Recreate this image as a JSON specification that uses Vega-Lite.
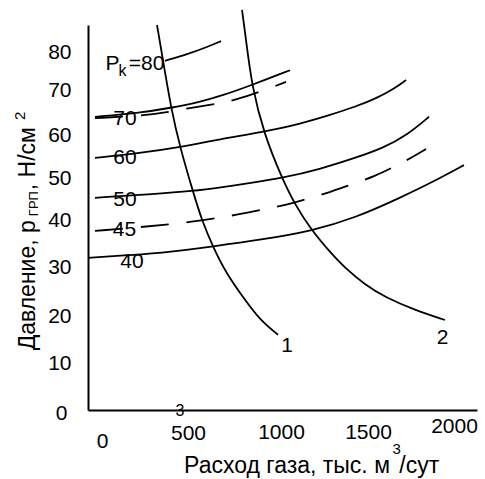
{
  "$schema": "https://vega.github.io/schema/vega-lite/v6.json",
  "width": 389,
  "height": 385,
  "autosize": "none",
  "padding": {"left": 88, "top": 25, "right": 8, "bottom": 69},
  "background": "white",
  "config": {"view": {"stroke": null}, "font": "Liberation Sans"},
  "encoding": {
    "x": {
      "field": "x", "type": "quantitative",
      "scale": {"domain": [0, 2114], "nice": false, "zero": false},
      "axis": {
        "values": [0, 500, 1000, 1500, 2000], "format": "d", "title": null, "grid": false, "ticks": false, "tickSize": 0,
        "domainColor": "black", "domainWidth": 2, "labelFontSize": 21, "labelColor": "black",
        "labelFont": "Liberation Sans", "labelFlush": false, "labelOverlap": false, "labelBound": false,
        "labelBaseline": "middle",
        "labelOffset": {"condition": [{"test": "datum.value == 0", "value": 14}, {"test": "datum.value == 2000", "value": -2}, {"test": "datum.value == 1000", "value": 9}, {"test": "datum.value == 1500", "value": 4}], "value": 8},
        "labelPadding": {"condition": [{"test": "datum.value == 0", "value": 31}, {"test": "datum.value == 2000", "value": 16}, {"test": "datum.value == 1000", "value": 22}, {"test": "datum.value == 1500", "value": 22}], "value": 23}
      }
    },
    "y": {
      "field": "y", "type": "quantitative",
      "scale": {"domain": [0, 86], "nice": false, "zero": false},
      "axis": {
        "values": [0, 10, 20, 30, 40, 50, 60, 70, 80], "title": null, "grid": false, "ticks": false, "tickSize": 0,
        "domainColor": "black", "domainWidth": 2, "labelFontSize": 21, "labelColor": "black",
        "labelFont": "Liberation Sans", "labelFlush": false, "labelOverlap": false, "labelBound": false,
        "labelBaseline": "middle", "labelAlign": "right",
        "labelOffset": {"condition": [{"test": "datum.value == 0", "value": 3}, {"test": "datum.value == 10", "value": -2}, {"test": "datum.value == 20", "value": -4}, {"test": "datum.value == 30", "value": -8}, {"test": "datum.value == 40", "value": -10}, {"test": "datum.value == 50", "value": -8}, {"test": "datum.value == 80", "value": 1}], "value": -6},
        "labelPadding": {"condition": [{"test": "datum.value == 0", "value": 21}], "value": 17}
      }
    }
  },
  "layer": [
    {
      "data": {"values": [
        {"curve": "1", "x": 375, "y": 86.0}, {"curve": "1", "x": 408, "y": 78.0}, {"curve": "1", "x": 451, "y": 67.5}, {"curve": "1", "x": 500, "y": 58.7}, {"curve": "1", "x": 571, "y": 48.7}, {"curve": "1", "x": 620, "y": 42.2}, {"curve": "1", "x": 680, "y": 36.4}, {"curve": "1", "x": 750, "y": 30.6}, {"curve": "1", "x": 853, "y": 24.6}, {"curve": "1", "x": 935, "y": 20.1}, {"curve": "1", "x": 1033, "y": 16.8},
        {"curve": "2", "x": 837, "y": 89.4}, {"curve": "2", "x": 859, "y": 82.6}, {"curve": "2", "x": 891, "y": 72.2}, {"curve": "2", "x": 957, "y": 61.6}, {"curve": "2", "x": 1054, "y": 51.8}, {"curve": "2", "x": 1120, "y": 46.2}, {"curve": "2", "x": 1217, "y": 40.0}, {"curve": "2", "x": 1315, "y": 35.3}, {"curve": "2", "x": 1397, "y": 31.7}, {"curve": "2", "x": 1505, "y": 28.0}, {"curve": "2", "x": 1614, "y": 25.2}, {"curve": "2", "x": 1777, "y": 22.3}, {"curve": "2", "x": 1940, "y": 20.1},
        {"curve": "Pk80", "x": 418, "y": 78.0}, {"curve": "Pk80", "x": 543, "y": 79.5}, {"curve": "Pk80", "x": 636, "y": 80.9}, {"curve": "Pk80", "x": 723, "y": 82.4},
        {"curve": "Pk70", "x": 38, "y": 65.5}, {"curve": "Pk70", "x": 272, "y": 66.3}, {"curve": "Pk70", "x": 451, "y": 67.5}, {"curve": "Pk70", "x": 609, "y": 68.8}, {"curve": "Pk70", "x": 734, "y": 70.3}, {"curve": "Pk70", "x": 891, "y": 72.6}, {"curve": "Pk70", "x": 1098, "y": 75.9},
        {"curve": "Pk60", "x": 38, "y": 56.3}, {"curve": "Pk60", "x": 283, "y": 57.4}, {"curve": "Pk60", "x": 500, "y": 58.7}, {"curve": "Pk60", "x": 717, "y": 60.5}, {"curve": "Pk60", "x": 951, "y": 62.1}, {"curve": "Pk60", "x": 1152, "y": 63.9}, {"curve": "Pk60", "x": 1315, "y": 65.9}, {"curve": "Pk60", "x": 1451, "y": 67.7}, {"curve": "Pk60", "x": 1571, "y": 69.7}, {"curve": "Pk60", "x": 1668, "y": 71.9}, {"curve": "Pk60", "x": 1728, "y": 73.7},
        {"curve": "Pk50", "x": 38, "y": 47.4}, {"curve": "Pk50", "x": 337, "y": 48.2}, {"curve": "Pk50", "x": 571, "y": 48.9}, {"curve": "Pk50", "x": 734, "y": 49.8}, {"curve": "Pk50", "x": 880, "y": 50.7}, {"curve": "Pk50", "x": 1054, "y": 51.8}, {"curve": "Pk50", "x": 1261, "y": 53.8}, {"curve": "Pk50", "x": 1451, "y": 56.3}, {"curve": "Pk50", "x": 1603, "y": 58.5}, {"curve": "Pk50", "x": 1734, "y": 61.4}, {"curve": "Pk50", "x": 1853, "y": 65.5},
        {"curve": "Pk40", "x": 0, "y": 34.0}, {"curve": "Pk40", "x": 228, "y": 34.6}, {"curve": "Pk40", "x": 446, "y": 35.3}, {"curve": "Pk40", "x": 690, "y": 36.6}, {"curve": "Pk40", "x": 935, "y": 38.0}, {"curve": "Pk40", "x": 1217, "y": 40.0}, {"curve": "Pk40", "x": 1451, "y": 42.9}, {"curve": "Pk40", "x": 1696, "y": 47.4}, {"curve": "Pk40", "x": 1886, "y": 51.2}, {"curve": "Pk40", "x": 2043, "y": 54.7}
      ]},
      "mark": {"type": "line", "color": "black", "strokeWidth": 1.8, "interpolate": "basis"},
      "encoding": {"detail": {"field": "curve"}}
    },
    {
      "data": {"values": [
        {"curve": "Pk70d", "x": 38, "y": 65.2}, {"curve": "Pk70d", "x": 283, "y": 65.7}, {"curve": "Pk70d", "x": 446, "y": 66.6}, {"curve": "Pk70d", "x": 554, "y": 67.5}, {"curve": "Pk70d", "x": 707, "y": 68.4}, {"curve": "Pk70d", "x": 799, "y": 69.2}, {"curve": "Pk70d", "x": 951, "y": 71.3}, {"curve": "Pk70d", "x": 1076, "y": 73.3},
        {"curve": "Pk45d", "x": 38, "y": 40.0}, {"curve": "Pk45d", "x": 299, "y": 40.9}, {"curve": "Pk45d", "x": 451, "y": 41.5}, {"curve": "Pk45d", "x": 554, "y": 42.0}, {"curve": "Pk45d", "x": 707, "y": 42.9}, {"curve": "Pk45d", "x": 804, "y": 43.6}, {"curve": "Pk45d", "x": 967, "y": 44.9}, {"curve": "Pk45d", "x": 1054, "y": 45.6}, {"curve": "Pk45d", "x": 1212, "y": 47.4}, {"curve": "Pk45d", "x": 1304, "y": 48.5}, {"curve": "Pk45d", "x": 1451, "y": 50.7}, {"curve": "Pk45d", "x": 1549, "y": 52.0}, {"curve": "Pk45d", "x": 1696, "y": 55.0}, {"curve": "Pk45d", "x": 1772, "y": 56.7}, {"curve": "Pk45d", "x": 1837, "y": 58.3}
      ]},
      "mark": {"type": "line", "color": "black", "strokeWidth": 1.8, "interpolate": "basis", "strokeDash": [28, 18]},
      "encoding": {"detail": {"field": "curve"}}
    },
    {
      "data": {"values": [
        {"t": "70", "x": 201, "y": 65.0}, {"t": "60", "x": 201, "y": 56.4}, {"t": "50", "x": 201, "y": 46.9}, {"t": "45", "x": 198, "y": 40.3}, {"t": "40", "x": 239, "y": 33.1},
        {"t": "1", "x": 1082, "y": 14.3}, {"t": "2", "x": 1927, "y": 16.0}, {"t": "P", "x": 133, "y": 77.2}, {"t": "=80", "x": 318, "y": 77.2}
      ]},
      "mark": {"type": "text", "fontSize": 21, "color": "black", "align": "center", "baseline": "middle", "font": "Liberation Sans"},
      "encoding": {"text": {"field": "t"}}
    },
    {
      "data": {"values": [{"t": "k", "x": 187, "y": 75.7}, {"t": "3", "x": 500, "y": -0.2}]},
      "mark": {"type": "text", "fontSize": 16, "color": "black", "align": "center", "baseline": "middle", "font": "Liberation Sans"},
      "encoding": {"text": {"field": "t"}}
    },
    {
      "data": {"values": [{"t": "Расход газа, тыс. м", "x": 1641, "y": -14.07}]},
      "mark": {"type": "text", "fontSize": 23, "color": "black", "align": "right", "baseline": "alphabetic", "font": "Liberation Sans"},
      "encoding": {"text": {"field": "t"}}
    },
    {
      "data": {"values": [{"t": "/сут", "x": 1692, "y": -14.07}]},
      "mark": {"type": "text", "fontSize": 23, "color": "black", "align": "left", "baseline": "alphabetic", "font": "Liberation Sans"},
      "encoding": {"text": {"field": "t"}}
    },
    {
      "data": {"values": [{"t": "3", "x": 1655, "y": -9.9}]},
      "mark": {"type": "text", "fontSize": 15, "color": "black", "align": "left", "baseline": "alphabetic", "font": "Liberation Sans"},
      "encoding": {"text": {"field": "t"}}
    },
    {
      "data": {"values": [{"t": "Давление, р", "x": -288, "y": 42.4}, {"t": ", Н/см", "x": -288, "y": 63.2}]},
      "mark": {"type": "text", "fontSize": 23, "color": "black", "align": "right", "baseline": "alphabetic", "angle": 270, "font": "Liberation Sans"},
      "encoding": {"text": {"field": "t"}}
    },
    {
      "data": {"values": [{"t": "ГРП", "x": -272, "y": 43.3}]},
      "mark": {"type": "text", "fontSize": 13, "color": "black", "align": "left", "baseline": "alphabetic", "angle": 270, "font": "Liberation Sans"},
      "encoding": {"text": {"field": "t"}}
    },
    {
      "data": {"values": [{"t": "2", "x": -342, "y": 64.8}]},
      "mark": {"type": "text", "fontSize": 15, "color": "black", "align": "left", "baseline": "alphabetic", "angle": 270, "font": "Liberation Sans"},
      "encoding": {"text": {"field": "t"}}
    }
  ]
}
